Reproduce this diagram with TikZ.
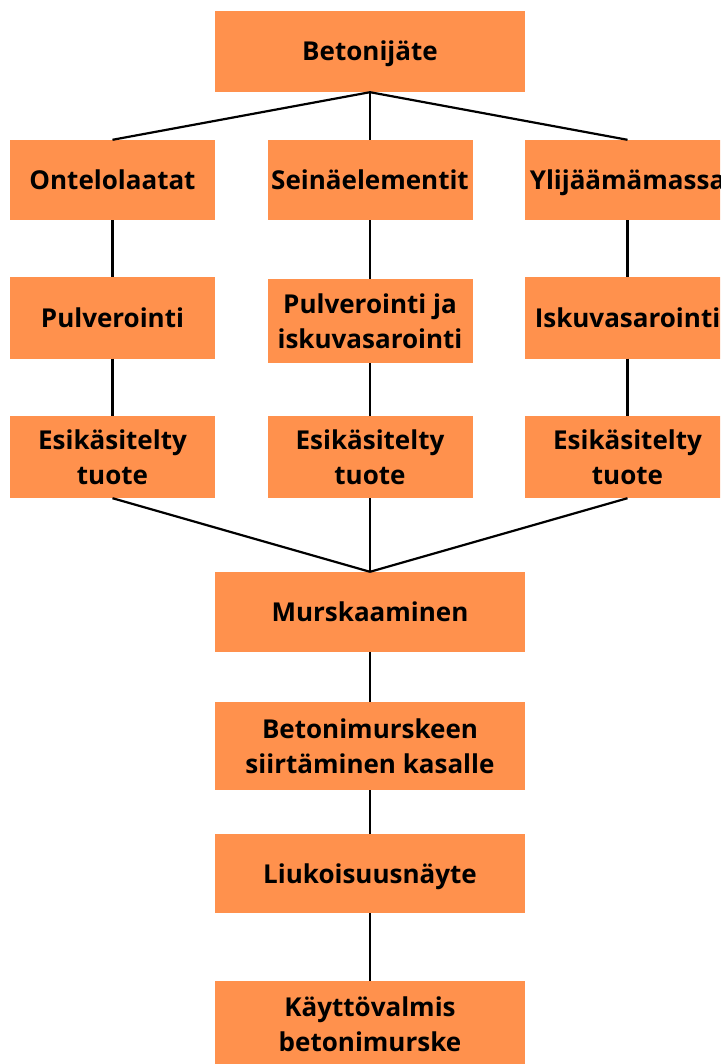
\documentclass[tikz,border=0pt]{standalone}
\usepackage{fontspec}
\setmainfont{Open Sans}
\definecolor{boxorange}{RGB}{255,145,77}
\begin{document}
\begin{tikzpicture}[x=1pt,y=-1pt,
  box/.style={fill=boxorange,draw=none,inner sep=0pt,align=center,
    text height=19pt,text depth=0pt,
    font=\bfseries\fontsize{26}{35}\selectfont,text=black},
  twoline/.style={text height=54pt},
  link/.style={draw=black,line width=2.2pt}]
\useasboundingbox (0,0) rectangle (720,1064);
\clip (0,0) rectangle (720,1064);
\node[box,minimum width=310pt,minimum height=81pt] (b) at (370,51.5) {Betonijäte};
\node[box,minimum width=205pt,minimum height=80pt] (o) at (112.5,180) {Ontelolaatat};
\node[box,minimum width=205pt,minimum height=80pt] (s) at (370,180) {Seinäelementit};
\node[box,minimum width=205pt,minimum height=80pt] (y) at (627.5,180) {Ylijäämämassa};
\node[box,minimum width=205pt,minimum height=81pt] (p1) at (112.5,318) {Pulverointi};
\node[box,twoline,minimum width=205pt,minimum height=84pt] (p2) at (370,321) {Pulverointi ja\\iskuvasarointi};
\node[box,minimum width=205pt,minimum height=81pt] (p3) at (627.5,318) {Iskuvasarointi};
\node[box,twoline,minimum width=205pt,minimum height=82pt] (e1) at (112.5,457) {Esikäsitelty\\tuote};
\node[box,twoline,minimum width=205pt,minimum height=82pt] (e2) at (370,457) {Esikäsitelty\\tuote};
\node[box,twoline,minimum width=205pt,minimum height=82pt] (e3) at (627.5,457) {Esikäsitelty\\tuote};
\node[box,minimum width=310pt,minimum height=80pt] (m) at (370,612) {Murskaaminen};
\node[box,twoline,minimum width=310pt,minimum height=88pt] (bm) at (370,746) {Betonimurskeen\\siirtäminen kasalle};
\node[box,minimum width=310pt,minimum height=79pt] (l) at (370,873.5) {Liukoisuusnäyte};
\node[box,twoline,minimum width=310pt,minimum height=86pt] (k) at (370,1024) {Käyttövalmis\\betonimurske};
\draw[link] (b.south) -- (o.north);
\draw[link] (b.south) -- (s.north);
\draw[link] (b.south) -- (y.north);
\draw[link] (o.south) -- (p1.north);
\draw[link] (s.south) -- (p2.north);
\draw[link] (y.south) -- (p3.north);
\draw[link] (p1.south) -- (e1.north);
\draw[link] (p2.south) -- (e2.north);
\draw[link] (p3.south) -- (e3.north);
\draw[link] (e1.south) -- (m.north);
\draw[link] (e2.south) -- (m.north);
\draw[link] (e3.south) -- (m.north);
\draw[link] (m.south) -- (bm.north);
\draw[link] (bm.south) -- (l.north);
\draw[link] (l.south) -- (k.north);
\end{tikzpicture}
\end{document}
